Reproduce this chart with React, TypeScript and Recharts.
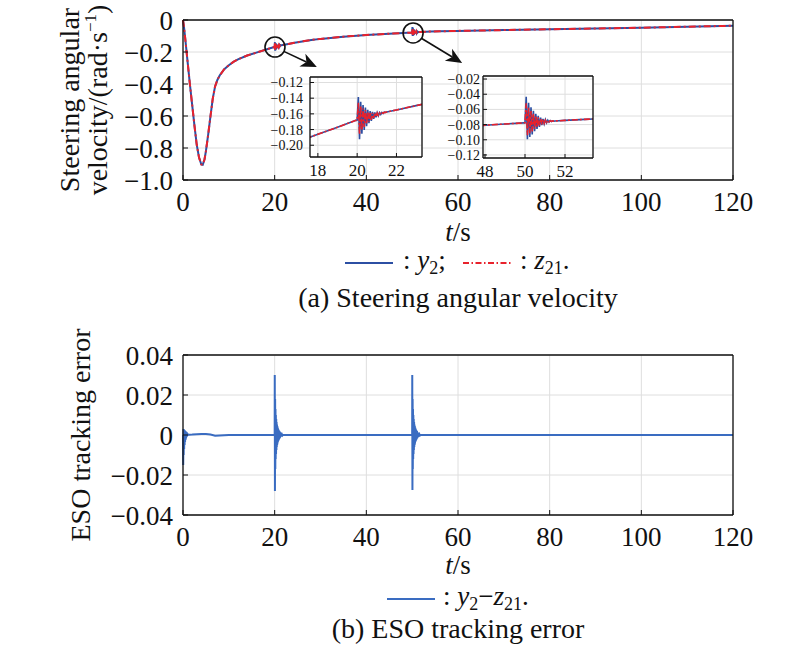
import React from 'react';
import { LineChart, Line, XAxis, YAxis, CartesianGrid, ReferenceDot, ReferenceLine } from 'recharts';

const FONT = "'Liberation Serif', 'Times New Roman', Times, 'DejaVu Serif', 'Noto Serif', serif";
const BLUE = '#2c4fa3';
const RED = '#e8222c';
const EBLUE = '#3a6cc1';
const GRID = '#dedede';
const AXIS = '#111';

// ---------- data: steering angular velocity (smooth part, y2 = z21) ----------
const T_MAIN = [0, 0.2, 0.5, 1, 1.5, 2, 2.5, 3, 3.5, 4, 4.3, 4.7, 5, 5.5, 6, 6.5, 7, 7.5, 8, 9, 10, 11, 12, 14, 16, 18, 19, 19.94, 21.5, 22, 23, 24, 26, 28, 30, 35, 40, 45, 48, 49, 49.94, 51.5, 52, 53, 54, 56, 60, 70, 80, 90, 100, 110, 120];
const Y_MAIN = [0, -0.04, -0.12, -0.26, -0.40, -0.53, -0.66, -0.78, -0.86, -0.903, -0.905, -0.87, -0.82, -0.715, -0.60, -0.49, -0.415, -0.375, -0.347, -0.308, -0.283, -0.262, -0.246, -0.222, -0.204, -0.186, -0.177, -0.1683, -0.1577, -0.155, -0.1495, -0.144, -0.134, -0.125, -0.118, -0.104, -0.094, -0.086, -0.0808, -0.0792, -0.0777, -0.0752, -0.0745, -0.0731, -0.0718, -0.0705, -0.068, -0.063, -0.058, -0.053, -0.048, -0.042, -0.036];

// bursts at t = 20 s and t = 50 s
const T_BURST_20 = [20.00, 20.06, 20.12, 20.18, 20.24, 20.30, 20.36, 20.42, 20.48, 20.54, 20.60, 20.66, 20.72, 20.78, 20.84, 20.90, 20.96, 21.02, 21.08, 21.14, 21.20, 21.26, 21.32, 21.38, 21.44];
const Y2_BURST_20 = [-0.1680, -0.1386, -0.1922, -0.1447, -0.1853, -0.1489, -0.1805, -0.1521, -0.1756, -0.1547, -0.1720, -0.1564, -0.1690, -0.1574, -0.1664, -0.1581, -0.1643, -0.1584, -0.1624, -0.1584, -0.1608, -0.1583, -0.1594, -0.1579, -0.1581];
const Z21_BURST_20 = [-0.1680, -0.1458, -0.1860, -0.1502, -0.1806, -0.1531, -0.1768, -0.1553, -0.1729, -0.1571, -0.1700, -0.1581, -0.1675, -0.1587, -0.1653, -0.1590, -0.1636, -0.1590, -0.1619, -0.1588, -0.1605, -0.1585, -0.1593, -0.1580, -0.1581];
const T_BURST_50 = [50.00, 50.06, 50.12, 50.18, 50.24, 50.30, 50.36, 50.42, 50.48, 50.54, 50.60, 50.66, 50.72, 50.78, 50.84, 50.90, 50.96, 51.02, 51.08, 51.14, 51.20, 51.26, 51.32, 51.38, 51.44];
const Y2_BURST_50 = [-0.0776, -0.0435, -0.0994, -0.0513, -0.0962, -0.0571, -0.0930, -0.0619, -0.0888, -0.0657, -0.0856, -0.0685, -0.0829, -0.0708, -0.0807, -0.0724, -0.0790, -0.0735, -0.0777, -0.0742, -0.0767, -0.0747, -0.0759, -0.0750, -0.0754];
const Z21_BURST_50 = [-0.0776, -0.0520, -0.0939, -0.0578, -0.0915, -0.0621, -0.0890, -0.0656, -0.0858, -0.0684, -0.0834, -0.0705, -0.0813, -0.0722, -0.0796, -0.0733, -0.0783, -0.0741, -0.0772, -0.0746, -0.0764, -0.0749, -0.0758, -0.0751, -0.0754];

// ---------- data: ESO tracking error ----------
const E_T_0 = [0, 0.05, 0.1, 0.15, 0.2, 0.25, 0.3, 0.35, 0.4, 0.45, 0.5, 0.55, 0.6, 0.65, 0.7, 0.75, 0.8, 0.85, 0.9, 0.95, 1.0, 1.1, 1.3, 2, 3, 4, 5, 6, 7, 8, 9, 10];
const E_V_0 = [0, -0.015, 0.003, -0.010, 0.0028, -0.007, 0.0025, -0.005, 0.0022, -0.0035, 0.002, -0.0025, 0.0017, -0.0017, 0.0014, -0.0011, 0.0011, -0.0007, 0.0008, -0.0004, 0.0005, 0.0002, 0.0001, 0.0002, 0.0004, 0.0005, 0.0005, 0.0002, -0.0004, -0.0002, -0.0001, 0];
const E_T_20 = [19.98, 20.00, 20.02, 20.06, 20.10, 20.14, 20.18, 20.22, 20.26, 20.30, 20.34, 20.38, 20.42, 20.46, 20.50, 20.54, 20.58, 20.62, 20.66, 20.70, 20.74, 20.78, 20.82, 20.86, 20.90, 20.94, 20.98, 21.02, 21.06, 21.10, 21.14, 21.18, 21.22, 21.26, 21.30, 21.34, 21.38, 21.42, 21.46, 21.50, 21.60, 21.70, 21.80, 22.0];
const E_V_20 = [0, 0, 0.030, -0.028, 0.018, -0.017, 0.013, -0.012, 0.010, -0.0095, 0.008, -0.0075, 0.0065, -0.006, 0.0053, -0.005, 0.0045, -0.0042, 0.0038, -0.0035, 0.0032, -0.003, 0.0028, -0.0026, 0.0024, -0.0022, 0.0021, -0.0019, 0.0018, -0.0016, 0.0015, -0.0013, 0.0012, -0.001, 0.0009, -0.0008, 0.0007, -0.0006, 0.0005, -0.0004, 0.0003, -0.0002, 0.0001, 0];
const E_T_50 = [49.98, 50.00, 50.02, 50.06, 50.10, 50.14, 50.18, 50.22, 50.26, 50.30, 50.34, 50.38, 50.42, 50.46, 50.50, 50.54, 50.58, 50.62, 50.66, 50.70, 50.74, 50.78, 50.82, 50.86, 50.90, 50.94, 50.98, 51.02, 51.06, 51.10, 51.14, 51.18, 51.22, 51.26, 51.30, 51.34, 51.38, 51.42, 51.46, 51.50, 51.60, 51.70, 51.80, 52.0];
const E_V_50 = [0, 0, 0.030, -0.0275, 0.018, -0.017, 0.013, -0.012, 0.010, -0.0095, 0.008, -0.0075, 0.0065, -0.006, 0.0053, -0.005, 0.0045, -0.0042, 0.0038, -0.0035, 0.0032, -0.003, 0.0028, -0.0026, 0.0024, -0.0022, 0.0021, -0.0019, 0.0018, -0.0016, 0.0015, -0.0013, 0.0012, -0.001, 0.0009, -0.0008, 0.0007, -0.0006, 0.0005, -0.0004, 0.0003, -0.0002, 0.0001, 0];
const E_T_FLAT = [120];
const E_V_FLAT = [0];

// ---------- ticks ----------
const X_TICKS = [0, 20, 40, 60, 80, 100, 120];
const Y_TICKS = [-1, -0.8, -0.6, -0.4, -0.2, 0];
const E_TICKS = [-0.04, -0.02, 0, 0.02, 0.04];
const IN1_X = [18, 20, 22];
const IN1_Y = [-0.2, -0.18, -0.16, -0.14, -0.12];
const IN2_X = [48, 50, 52];
const IN2_Y = [-0.12, -0.1, -0.08, -0.06, -0.04, -0.02];

type Row = { t: number; y2: number; z21: number };
const mainData: Row[] = [
  ...T_MAIN.map((t, i) => ({ t, y2: Y_MAIN[i], z21: Y_MAIN[i] })),
  ...T_BURST_20.map((t, i) => ({ t, y2: Y2_BURST_20[i], z21: Z21_BURST_20[i] })),
  ...T_BURST_50.map((t, i) => ({ t, y2: Y2_BURST_50[i], z21: Z21_BURST_50[i] })),
].sort((a, b) => a.t - b.t);

const errData = [
  ...E_T_0.map((t, i) => ({ t, e: E_V_0[i] })),
  ...E_T_20.map((t, i) => ({ t, e: E_V_20[i] })),
  ...E_T_50.map((t, i) => ({ t, e: E_V_50[i] })),
  ...E_T_FLAT.map((t, i) => ({ t, e: E_V_FLAT[i] })),
].sort((a, b) => a.t - b.t);

const fmtMain = (v: number) => (Math.abs(v) < 1e-9 ? '0' : (v < 0 ? '−' : '') + Math.abs(v).toFixed(1));
const fmtInset = (v: number) => (v < 0 ? '−' : '') + Math.abs(v).toFixed(2);
const fmtErr = (v: number) => (Math.abs(v) < 1e-9 ? '0' : (v < 0 ? '−' : '') + Math.abs(v).toFixed(2));
const fmtInt = (v: number) => String(v);

const bigTick = { fontSize: 27, fontFamily: FONT, fill: '#111' };
const smallXTick = { fontSize: 17, fontFamily: FONT, fill: '#111' };
const smallYTick = { fontSize: 14, fontFamily: FONT, fill: '#111' };
const axisLine = { stroke: AXIS, strokeWidth: 1.3 };
const tickLine = { stroke: AXIS, strokeWidth: 1 };

function Arrow(props: any) {
  const { x1, y1, x2, y2 } = props;
  const dx = x2 - x1;
  const dy = y2 - y1;
  const len = Math.hypot(dx, dy) || 1;
  const ux = dx / len;
  const uy = dy / len;
  const L = 16;
  const W = 7;
  const bx = x2 - L * ux;
  const by = y2 - L * uy;
  const nx = -uy;
  const ny = ux;
  const kx = x2 - 0.72 * L * ux;
  const ky = y2 - 0.72 * L * uy;
  return (
    <g>
      <line x1={x1} y1={y1} x2={kx} y2={ky} stroke="#111" strokeWidth={1.6} />
      <polygon points={`${x2},${y2} ${bx + W * nx},${by + W * ny} ${kx},${ky} ${bx - W * nx},${by - W * ny}`} fill="#111" />
    </g>
  );
}

function MainChart() {
  return (
    <LineChart width={800} height={240} data={mainData} margin={{ top: 19, right: 57, left: 0, bottom: 0 }}>
      <CartesianGrid stroke={GRID} strokeWidth={1} />
      <XAxis dataKey="t" type="number" domain={[0, 120]} ticks={X_TICKS} interval={0} height={60} tickSize={-5} tickMargin={17} tick={bigTick} axisLine={axisLine} tickLine={tickLine} tickFormatter={fmtInt} />
      <XAxis xAxisId="top" orientation="top" type="number" domain={[0, 120]} ticks={X_TICKS} interval={0} height={1} tickSize={-5} tick={false} axisLine={axisLine} tickLine={tickLine} />
      <YAxis type="number" domain={[-1, 0]} ticks={Y_TICKS} interval={0} width={183} tickSize={-5} tickMargin={15} tick={bigTick} axisLine={axisLine} tickLine={tickLine} tickFormatter={fmtMain} />
      <YAxis yAxisId="r" orientation="right" type="number" domain={[-1, 0]} ticks={Y_TICKS} interval={0} width={10} tickSize={-5} tick={false} axisLine={axisLine} tickLine={tickLine} />
      <Line dataKey="y2" type="linear" stroke={BLUE} strokeWidth={2} dot={false} isAnimationActive={false} />
      <Line dataKey="z21" type="linear" stroke={RED} strokeWidth={2} strokeDasharray="7 3 2 3" dot={false} isAnimationActive={false} />
      <ReferenceDot x={20.07} y={-0.169} r={10} fill="none" stroke="#111" strokeWidth={1.6} />
      <ReferenceDot x={50.2} y={-0.081} r={10} fill="none" stroke="#111" strokeWidth={1.6} />
      <ReferenceLine segment={[{ x: 22.0, y: -0.196 }, { x: 29.2, y: -0.294 }]} shape={Arrow} />
      <ReferenceLine segment={[{ x: 52.0, y: -0.114 }, { x: 60.9, y: -0.269 }]} shape={Arrow} />
    </LineChart>
  );
}

function Inset(props: { xd: [number, number]; yd: [number, number]; xt: number[]; yt: number[]; w: number; h: number; ym: number }) {
  const { xd, yd, xt, yt, w, h, ym } = props;
  return (
    <LineChart width={w} height={h} data={mainData} margin={{ top: 9, right: 4, left: 0, bottom: 0 }}>
      <CartesianGrid stroke={GRID} strokeWidth={1} fill="#ffffff" fillOpacity={1} />
      <XAxis dataKey="t" type="number" domain={xd} ticks={xt} interval={0} allowDataOverflow height={25} tickSize={-4} tickMargin={11} tick={smallXTick} axisLine={axisLine} tickLine={tickLine} tickFormatter={fmtInt} />
      <XAxis xAxisId="top" orientation="top" type="number" domain={xd} ticks={xt} interval={0} allowDataOverflow height={1} tickSize={-4} tick={false} axisLine={axisLine} tickLine={tickLine} />
      <YAxis type="number" domain={yd} ticks={yt} interval={0} allowDataOverflow width={60} tickSize={-4} tickMargin={ym} tick={smallYTick} axisLine={axisLine} tickLine={tickLine} tickFormatter={fmtInset} />
      <YAxis yAxisId="r" orientation="right" type="number" domain={yd} ticks={yt} interval={0} allowDataOverflow width={1} tickSize={-4} tick={false} axisLine={axisLine} tickLine={tickLine} />
      <Line dataKey="y2" type="linear" stroke={BLUE} strokeWidth={1.6} dot={false} isAnimationActive={false} />
      <Line dataKey="z21" type="linear" stroke={RED} strokeWidth={1.6} strokeDasharray="6 2 2 2" dot={false} isAnimationActive={false} />
    </LineChart>
  );
}

function ErrorChart() {
  return (
    <LineChart width={800} height={240} data={errData} margin={{ top: 19, right: 57, left: 0, bottom: 0 }}>
      <CartesianGrid stroke={GRID} strokeWidth={1} />
      <XAxis dataKey="t" type="number" domain={[0, 120]} ticks={X_TICKS} interval={0} height={60} tickSize={-5} tickMargin={17} tick={bigTick} axisLine={axisLine} tickLine={tickLine} tickFormatter={fmtInt} />
      <XAxis xAxisId="top" orientation="top" type="number" domain={[0, 120]} ticks={X_TICKS} interval={0} height={1} tickSize={-5} tick={false} axisLine={axisLine} tickLine={tickLine} />
      <YAxis type="number" domain={[-0.04, 0.04]} ticks={E_TICKS} interval={0} width={183} tickSize={-5} tickMargin={15} tick={bigTick} axisLine={axisLine} tickLine={tickLine} tickFormatter={fmtErr} />
      <YAxis yAxisId="r" orientation="right" type="number" domain={[-0.04, 0.04]} ticks={E_TICKS} interval={0} width={10} tickSize={-5} tick={false} axisLine={axisLine} tickLine={tickLine} />
      <Line dataKey="e" type="linear" stroke={EBLUE} strokeWidth={2} dot={false} isAnimationActive={false} />
    </LineChart>
  );
}

export default function App() {
  return (
    <div style={{ position: 'absolute', left: 0, top: 0, width: 800, height: 654, background: '#fff', fontFamily: FONT }}>
      <div style={{ position: 'absolute', left: 0, top: 0 }}>
        <MainChart />
      </div>
      <div style={{ position: 'absolute', left: 250, top: 67 }}>
        <Inset xd={[17.6, 23.3]} yd={[-0.215, -0.113]} xt={IN1_X} yt={IN1_Y} w={177} h={115} ym={11} />
      </div>
      <div style={{ position: 'absolute', left: 423, top: 66 }}>
        <Inset xd={[47.9, 53.4]} yd={[-0.124, -0.016]} xt={IN2_X} yt={IN2_Y} w={175} h={117} ym={7} />
      </div>
      <div style={{ position: 'absolute', left: 0, top: 335 }}>
        <ErrorChart />
      </div>
      <svg width={800} height={654} style={{ position: 'absolute', left: 0, top: 0, pointerEvents: 'none', fontFamily: FONT }} fill="#111">
        <text x={79} y={100} transform="rotate(-90 79 100)" textAnchor="middle" fontSize={28}>Steering angular</text>
        <text x={107} y={100} transform="rotate(-90 107 100)" textAnchor="middle" fontSize={28}>
          velocity/(rad·s<tspan fontSize={17} dy={-11}>−1</tspan><tspan dy={11}>)</tspan>
        </text>
        <text x={458} y={241} textAnchor="middle" fontSize={27}><tspan fontStyle="italic">t</tspan>/s</text>
        <line x1={345} y1={263} x2={393} y2={263} stroke={BLUE} strokeWidth={2} />
        <text x={403} y={269} fontSize={27}>: <tspan fontStyle="italic">y</tspan><tspan fontSize={18} dy={5}>2</tspan><tspan dy={-5}>;</tspan></text>
        <line x1={463} y1={263} x2={512} y2={263} stroke={RED} strokeWidth={2} strokeDasharray="6 2.5 1.5 2.5" />
        <text x={520} y={269} fontSize={27}>: <tspan fontStyle="italic">z</tspan><tspan fontSize={18} dy={5}>21</tspan><tspan dy={-5}>.</tspan></text>
        <text x={458} y={307} textAnchor="middle" fontSize={28}>(a) Steering angular velocity</text>

        <text x={90} y={435} transform="rotate(-90 90 435)" textAnchor="middle" fontSize={28}>ESO tracking error</text>
        <text x={458} y={574} textAnchor="middle" fontSize={27}><tspan fontStyle="italic">t</tspan>/s</text>
        <line x1={387} y1={599} x2={435} y2={599} stroke={EBLUE} strokeWidth={2} />
        <text x={443} y={605} fontSize={27}>: <tspan fontStyle="italic">y</tspan><tspan fontSize={18} dy={5}>2</tspan><tspan dy={-5}>−</tspan><tspan fontStyle="italic">z</tspan><tspan fontSize={18} dy={5}>21</tspan><tspan dy={-5}>.</tspan></text>
        <text x={458} y={638} textAnchor="middle" fontSize={28}>(b) ESO tracking error</text>
      </svg>
    </div>
  );
}
